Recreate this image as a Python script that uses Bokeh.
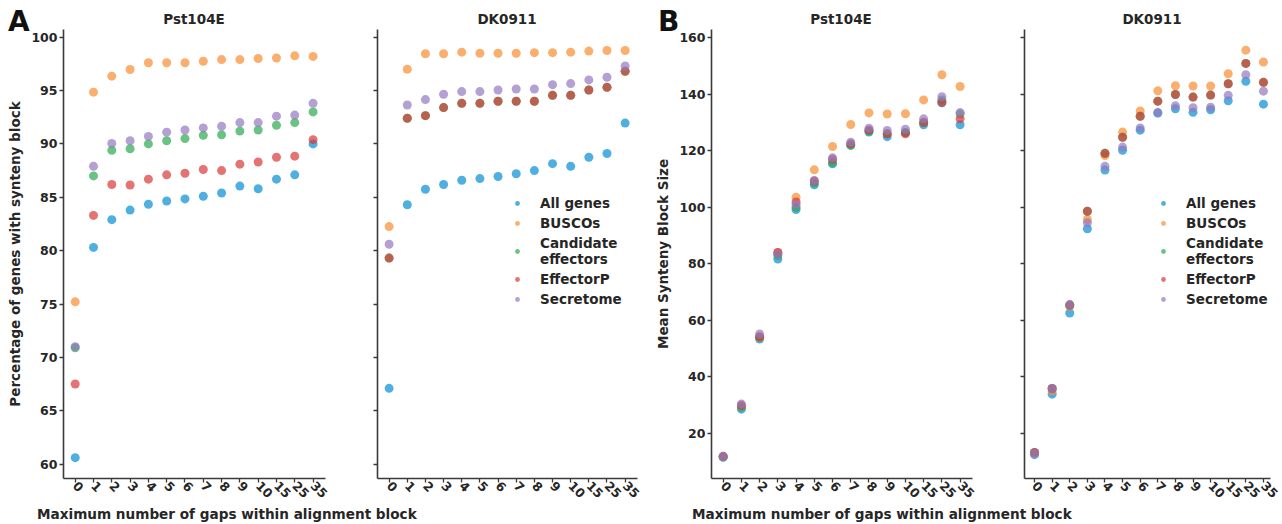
import math
from bokeh.plotting import figure
from bokeh.models import (Range1d, FixedTicker, Legend, LegendItem, Div,
                          ColumnDataSource, CustomJSTickFormatter)
from bokeh.layouts import row, column
from bokeh.embed import file_html
from bokeh.resources import INLINE

# ---------------- data ----------------
gaps = ["0", "1", "2", "3", "4", "5", "6", "7", "8", "9", "10", "15", "25", "35"]
series = ["All genes", "BUSCOs", "Candidate\neffectors", "EffectorP", "Secretome"]
strains = ["Pst104E", "DK0911"]

# Panel A: percentage of genes with synteny block
pst_pct_all = [60.6, 80.3, 82.9, 83.8, 84.35, 84.65, 84.85, 85.1, 85.4, 86.05, 85.8, 86.7, 87.1, 90.0]
pst_pct_busco = [75.2, 94.85, 96.35, 96.97, 97.6, 97.6, 97.6, 97.75, 97.9, 97.9, 98.0, 98.05, 98.25, 98.2]
pst_pct_cand = [70.9, 87.0, 89.4, 89.55, 90.0, 90.3, 90.5, 90.8, 90.85, 91.2, 91.3, 91.75, 92.0, 93.0]
pst_pct_effp = [67.5, 83.3, 86.2, 86.15, 86.7, 87.1, 87.25, 87.6, 87.5, 88.1, 88.3, 88.75, 88.85, 90.4]
pst_pct_secr = [71.0, 87.9, 90.05, 90.3, 90.7, 91.1, 91.3, 91.5, 91.65, 92.0, 92.0, 92.6, 92.7, 93.8]

dk_pct_all = [67.1, 84.3, 85.75, 86.2, 86.6, 86.75, 86.95, 87.2, 87.5, 88.15, 87.9, 88.75, 89.1, 91.95]
dk_pct_busco = [82.25, 97.0, 98.45, 98.45, 98.6, 98.5, 98.5, 98.5, 98.55, 98.55, 98.6, 98.7, 98.75, 98.75]
dk_pct_cand = [79.3, 92.4, 92.65, 93.4, 93.8, 93.8, 94.0, 94.0, 94.0, 94.55, 94.55, 95.05, 95.3, 96.8]
dk_pct_effp = [79.3, 92.4, 92.65, 93.4, 93.8, 93.8, 94.0, 94.0, 94.0, 94.55, 94.55, 95.05, 95.3, 96.8]
dk_pct_secr = [80.6, 93.65, 94.15, 94.65, 94.9, 94.9, 95.05, 95.15, 95.15, 95.55, 95.65, 96.0, 96.25, 97.3]

# Panel B: mean synteny block size
pst_size_all = [11.6, 28.6, 53.4, 81.7, 99.2, 108.0, 115.4, 122.0, 126.6, 125.0, 126.4, 129.2, 137.0, 129.2]
pst_size_busco = [11.8, 29.5, 54.0, 84.0, 103.6, 113.25, 121.5, 129.3, 133.4, 133.0, 133.1, 138.0, 146.9, 142.75]
pst_size_cand = [11.8, 29.3, 54.0, 83.0, 100.0, 108.6, 115.8, 121.9, 127.0, 126.0, 126.5, 130.0, 138.0, 133.0]
pst_size_effp = [11.9, 30.0, 54.2, 84.0, 101.9, 109.3, 117.0, 122.5, 127.3, 126.0, 126.0, 130.0, 137.1, 131.3]
pst_size_secr = [11.9, 30.4, 55.2, 83.5, 101.0, 109.5, 117.5, 123.0, 128.0, 127.2, 127.6, 131.3, 139.1, 133.5]

dk_size_all = [12.5, 33.9, 62.6, 92.4, 113.2, 120.2, 127.3, 133.3, 134.85, 133.6, 134.5, 137.7, 144.6, 136.5]
dk_size_busco = [13.0, 35.0, 65.0, 95.7, 118.3, 126.6, 134.1, 141.2, 143.0, 142.9, 142.9, 147.25, 155.6, 151.4]
dk_size_cand = [13.3, 35.9, 65.4, 98.6, 119.1, 124.8, 132.2, 137.55, 139.9, 139.0, 139.7, 143.7, 150.9, 144.2]
dk_size_effp = [13.3, 35.9, 65.4, 98.6, 119.1, 124.8, 132.2, 137.55, 139.9, 139.0, 139.7, 143.7, 150.9, 144.2]
dk_size_secr = [13.0, 35.9, 65.6, 94.5, 114.5, 121.3, 128.1, 133.6, 135.9, 135.2, 135.4, 139.6, 146.9, 141.1]

pct_ticks = [60, 65, 70, 75, 80, 85, 90, 95, 100]
size_ticks = [20, 40, 60, 80, 100, 120, 140, 160]

# ---------------- style ----------------
colors = ["#058dd4", "#f88d30", "#29aa4d", "#d83737", "#9477bf"]
FONT = "DejaVu Sans"
TXT = "#262626"
AX = "#3a3a3a"
H = 486          # figure height (frame 449 + bottom border 37)
XR = (-0.64, 13.68)
XR_LAST = (-0.57, 13.4)


def make_fig(width, x_range, y_range, ticks, left, right, show_labels, ylabel=None):
    p = figure(width=width, height=H, x_range=Range1d(*x_range), y_range=y_range,
               output_backend="svg", toolbar_location=None,
               min_border_left=left, min_border_right=right,
               min_border_top=0, min_border_bottom=37)
    p.outline_line_color = None
    p.grid.visible = False
    p.border_fill_alpha = 0
    p.background_fill_alpha = 0
    for ax in (p.xaxis[0], p.yaxis[0]):
        ax.axis_line_color = AX
        ax.axis_line_width = 1.6
        ax.major_tick_line_color = AX
        ax.major_tick_line_width = 1.3
        ax.major_tick_out = 4
        ax.major_tick_in = 0
        ax.minor_tick_line_color = None
        ax.major_label_text_font = FONT
        ax.major_label_text_font_style = "bold"
        ax.major_label_text_font_size = "12.5px"
        ax.major_label_text_color = TXT
        ax.major_label_standoff = 2
    xa = p.xaxis[0]
    xa.ticker = FixedTicker(ticks=list(range(len(gaps))))
    xa.major_label_overrides = {i: g for i, g in enumerate(gaps)}
    xa.major_label_orientation = -math.pi / 4
    xa.major_label_standoff = 1
    ya = p.yaxis[0]
    ya.ticker = FixedTicker(ticks=ticks)
    if not show_labels:
        ya.formatter = CustomJSTickFormatter(code="return ''")
    if ylabel:
        ya.axis_label = ylabel
        ya.axis_label_text_font = FONT
        ya.axis_label_text_font_style = "bold"
        ya.axis_label_text_font_size = "13.5px"
        ya.axis_label_text_color = TXT
        ya.axis_label_standoff = 5
    return p


def add_points(p, data_lists):
    rends = []
    xs = list(range(len(gaps)))
    for name, vals, c in zip(series, data_lists, colors):
        src = ColumnDataSource(dict(x=xs, y=vals))
        r = p.scatter("x", "y", source=src, size=9, fill_color=c,
                      fill_alpha=0.7, line_color=None)
        rends.append((name, r))
    return rends


def add_legend(p, rends, loc):
    leg = Legend(items=[LegendItem(label=n, renderers=[r]) for n, r in rends],
                 location=loc, label_text_font=FONT, label_text_font_style="bold",
                 label_text_font_size="13.5px", label_text_color=TXT,
                 glyph_width=12, glyph_height=12, label_standoff=17,
                 spacing=4, padding=0, margin=0, label_height=16,
                 border_line_alpha=0, background_fill_alpha=0)
    p.add_layout(leg)


pct_range = Range1d(58.65, 100.72)
size_range = Range1d(4.07, 162.9)

fA1 = make_fig(345, XR, pct_range, pct_ticks, 63, 20, True, "Percentage of genes with synteny block")
fA2 = make_fig(300, XR, pct_range, pct_ticks, 32, 8, False)
fB1 = make_fig(347, XR, size_range, size_ticks, 66, 20, True, "Mean Synteny Block Size")
fB2 = make_fig(290, XR_LAST, size_range, size_ticks, 32, 12, False)

add_points(fA1, [pst_pct_all, pst_pct_busco, pst_pct_cand, pst_pct_effp, pst_pct_secr])
rA2 = add_points(fA2, [dk_pct_all, dk_pct_busco, dk_pct_cand, dk_pct_effp, dk_pct_secr])
add_points(fB1, [pst_size_all, pst_size_busco, pst_size_cand, pst_size_effp, pst_size_secr])
rB2 = add_points(fB2, [dk_size_all, dk_size_busco, dk_size_cand, dk_size_effp, dk_size_secr])

add_legend(fA2, rA2, (134, 171))
add_legend(fB2, rB2, (133, 171))

# ---------------- header (panel letters + subplot titles) ----------------
def span(text, left, top, size, center=True):
    tr = "transform:translateX(-50%);" if center else ""
    return ('<span style="position:absolute;left:%dpx;top:%dpx;%s'
            "font-family:'DejaVu Sans';font-weight:bold;font-size:%spx;"
            'line-height:%spx;color:%s;white-space:nowrap;">%s</span>'
            % (left, top, tr, size, size, "#111111" if size > 20 else TXT, text))

header_html = ('<div style="position:relative;width:1282px;height:29px;">'
               + span("A", 8, 8, 28, center=False)
               + span(strains[0], 194, 13, 13.5)
               + span(strains[1], 507, 13, 13.5)
               + span("B", 658, 8, 28, center=False)
               + span(strains[0], 841, 13, 13.5)
               + span(strains[1], 1152, 13, 13.5)
               + '</div>')
header = Div(text=header_html, width=1282, height=29, margin=(0, 0, 0, 0))

XLABEL = "Maximum number of gaps within alignment block"
lab_style = ("position:relative;top:-9px;font-family:'DejaVu Sans';font-weight:bold;"
             "font-size:13.6px;color:%s;text-align:center;line-height:17px;"
             "white-space:nowrap;" % TXT)
d1 = Div(text='<div style="%s margin-left:37px">%s</div>' % (lab_style, XLABEL),
         width=645, height=9, margin=(0, 0, 0, 0))
d2 = Div(text='<div style="%s margin-left:47px">%s</div>' % (lab_style, XLABEL),
         width=637, height=9, margin=(0, 0, 0, 0))

layout = column(header, row(fA1, fA2, fB1, fB2), row(d1, d2))

open("out.html", "w").write(file_html(layout, INLINE))
